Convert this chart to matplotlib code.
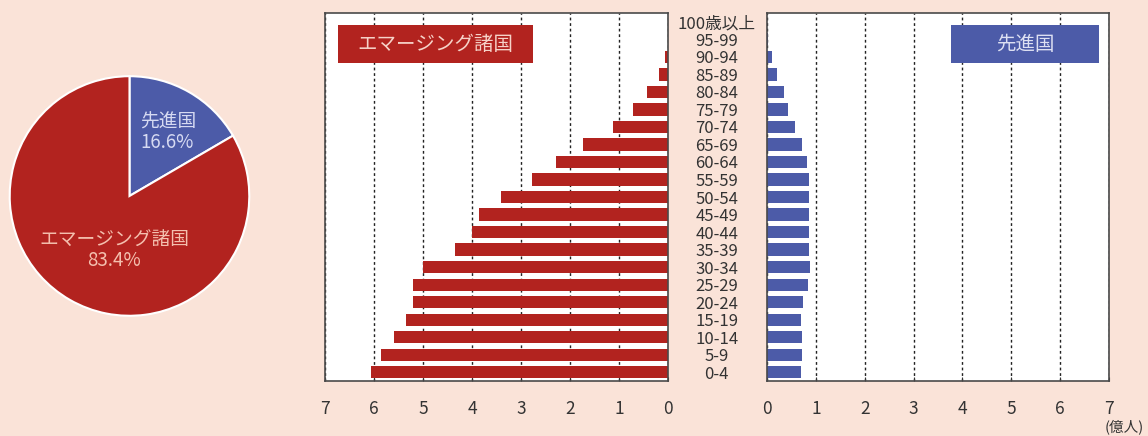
import matplotlib
matplotlib.use("Agg")
import matplotlib.pyplot as plt
from matplotlib.patches import Rectangle

plt.rcParams['font.family'] = ['Noto Sans CJK JP', 'DejaVu Sans']

# data (億人)
ages = ['0-4', '5-9', '10-14', '15-19', '20-24', '25-29', '30-34', '35-39',
        '40-44', '45-49', '50-54', '55-59', '60-64', '65-69', '70-74',
        '75-79', '80-84', '85-89', '90-94', '95-99', '100歳以上']
emerging = [6.07, 5.86, 5.59, 5.35, 5.21, 5.20, 5.00, 4.35, 4.00, 3.85, 3.41,
            2.78, 2.29, 1.74, 1.12, 0.72, 0.43, 0.18, 0.06, 0.01, 0.0]
developed = [0.69, 0.72, 0.71, 0.69, 0.74, 0.83, 0.89, 0.865, 0.865, 0.865, 0.865,
             0.865, 0.81, 0.72, 0.57, 0.44, 0.35, 0.20, 0.11, 0.02, 0.0]
pie_labels = ['先進国', 'エマージング諸国']
pie_shares = [16.6, 83.4]
xticks = [0, 1, 2, 3, 4, 5, 6, 7]

BG = '#fae3d8'
RED = '#b2231f'
BLUE = '#4c5ba8'
TXT = '#333333'

fig = plt.figure(figsize=(11.48, 4.36), dpi=100, facecolor=BG)

# pie
ax_p = fig.add_axes([0.0074, 0.273, 0.2108, 0.555])
ax_p.pie(pie_shares, colors=[BLUE, RED], startangle=90, counterclock=False,
         wedgeprops=dict(edgecolor='white', linewidth=1.5))
ax_p.set_xlim(-1.01, 1.01)
ax_p.set_ylim(-1.01, 1.01)
ax_p.text(0.087, 0.53, '%s\n%.1f%%' % (pie_labels[0], pie_shares[0]), ha='left', va='center',
          fontsize=13.5, color='#d6daf2', linespacing=1.0)
ax_p.text(-0.128, -0.455, '%s\n%.1f%%' % (pie_labels[1], pie_shares[1]), ha='center', va='center',
          fontsize=13.5, color='#f4bfae', linespacing=1.0)

# pyramid axes
ax_l = fig.add_axes([0.2831, 0.1261, 0.2988, 0.844])
ax_r = fig.add_axes([0.6681, 0.1261, 0.2979, 0.844])
y = list(range(len(ages)))

ax_l.barh(y, emerging, height=0.7, color=RED, zorder=2)
ax_r.barh(y, developed, height=0.7, color=BLUE, zorder=2)

for ax in (ax_l, ax_r):
    ax.set_facecolor('white')
    ax.set_ylim(-0.5, len(ages) - 0.5)
    ax.set_xticks(xticks)
    ax.grid(axis='x', linestyle=(0, (2, 2)), color='#222222', linewidth=1.0, zorder=1)
    ax.set_axisbelow(True)
    ax.tick_params(axis='x', direction='in', length=3, pad=14, labelsize=12.5,
                   colors=TXT)
    for s in ax.spines.values():
        s.set_color('#4a4a4a')
        s.set_linewidth(1.2)

ax_l.set_xlim(7, 0)
ax_r.set_xlim(0, 7)

# age labels between the two panels
ax_l.yaxis.tick_right()
ax_l.set_yticks(y)
ax_l.set_yticklabels(ages)
ax_l.tick_params(axis='y', length=0, pad=35, labelsize=12, colors=TXT)
for t in ax_l.get_yticklabels():
    t.set_ha('center')
ax_r.set_yticks([])

# panel title boxes
ax_l.add_patch(Rectangle((0.038, 0.864), 0.568, 0.103, transform=ax_l.transAxes,
                         facecolor=RED, edgecolor='none', zorder=3))
ax_l.text(0.322, 0.915, 'エマージング諸国', transform=ax_l.transAxes, ha='center',
          va='center', fontsize=14, color='#f6d2c8', zorder=4)
ax_r.add_patch(Rectangle((0.538, 0.864), 0.433, 0.103, transform=ax_r.transAxes,
                         facecolor=BLUE, edgecolor='none', zorder=3))
ax_r.text(0.7545, 0.915, '先進国', transform=ax_r.transAxes, ha='center',
          va='center', fontsize=14, color='#dde0f2', zorder=4)

fig.text(1124 / 1148, 1 - 427 / 436, '(億人)', ha='center', va='center',
         fontsize=10.5, color=TXT)

fig.savefig('out.png', dpi=100, facecolor=BG)
